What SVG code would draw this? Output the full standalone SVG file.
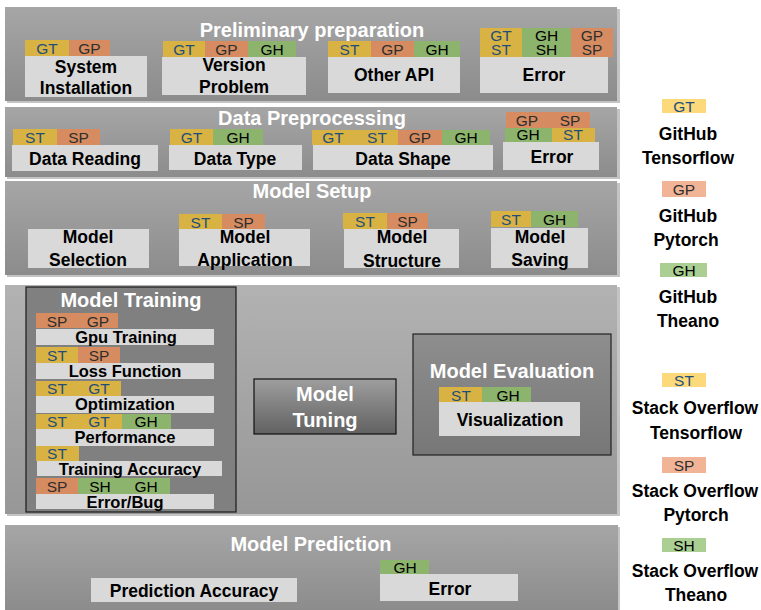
<svg xmlns="http://www.w3.org/2000/svg" width="761" height="610" viewBox="0 0 761 610">
<defs>
<linearGradient id="secg" x1="0" y1="0" x2="0" y2="1"><stop offset="0" stop-color="#a6a6a6"/><stop offset="1" stop-color="#8c8c8c"/></linearGradient>
<linearGradient id="traing" x1="0" y1="0" x2="0" y2="1"><stop offset="0" stop-color="#b2b2b2"/><stop offset="1" stop-color="#979797"/></linearGradient>
<linearGradient id="tung" x1="0" y1="0" x2="0" y2="1"><stop offset="0" stop-color="#9e9e9e"/><stop offset="1" stop-color="#616161"/></linearGradient>
<linearGradient id="evalg" x1="0" y1="0" x2="0" y2="1"><stop offset="0" stop-color="#8e8e8e"/><stop offset="1" stop-color="#777777"/></linearGradient>
<style>
text{font-family:"Liberation Sans",Arial,sans-serif}
.sec{fill:url(#secg)}
.shadow{fill:#c4c4c4}
.title{fill:#ffffff;font-weight:bold;font-size:20px;text-anchor:middle}
.box{fill:#d9d9d9}
.nt{fill:#000;font-weight:bold;font-size:17.5px;text-anchor:middle}
.nts{fill:#000;font-weight:bold;font-size:16.5px;text-anchor:middle}
.y{fill:#d9b244}
.o{fill:#d68c60}
.g{fill:#8db46c}
.ly{fill:#fcd97a}
.lo{fill:#f2b496}
.lg{fill:#abcf92}
.tb{fill:#1f4e79;font-size:15.5px;text-anchor:middle}
.td{fill:#2e2e2e;font-size:15.5px;text-anchor:middle}
.tk{fill:#000;font-size:15.5px;text-anchor:middle}
.lt{fill:#000;font-weight:bold;font-size:17.5px;text-anchor:middle}
</style>
</defs>
<rect width="761" height="610" fill="#ffffff"/>

<g id="sections">
<rect class="shadow" x="7" y="9" width="613" height="94"/>
<rect class="sec" x="5" y="7" width="612" height="94"/>
<rect class="shadow" x="7" y="109" width="613" height="70"/>
<rect class="sec" x="5" y="107" width="612" height="70"/>
<rect class="shadow" x="7" y="183" width="613" height="94"/>
<rect class="sec" x="5" y="181" width="612" height="94"/>
<rect class="shadow" x="7" y="287" width="613" height="229"/>
<rect x="5" y="285" width="612" height="229" fill="url(#traing)"/>
<rect class="shadow" x="7" y="527" width="613" height="85"/>
<rect class="sec" x="5" y="525" width="613" height="85"/>
<text class="title" x="312" y="37">Preliminary preparation</text>
<text class="title" x="312" y="125">Data Preprocessing</text>
<text class="title" x="312" y="198">Model Setup</text>
<text class="title" x="311" y="551">Model Prediction</text>
</g>

<g id="connectors"/>

<g id="system-installation">
<rect class="y" x="25" y="40" width="44" height="16"/><rect class="o" x="69" y="40" width="41" height="16"/>
<text class="tb" x="47" y="54">GT</text><text class="td" x="89.5" y="54">GP</text>
<rect class="box" x="25" y="56" width="122" height="41"/>
<text class="nt" x="86" y="73">System</text><text class="nt" x="86" y="94">Installation</text>
</g>
<g id="version-problem">
<rect class="y" x="163" y="41" width="42" height="16"/><rect class="o" x="205" y="41" width="43" height="16"/><rect class="g" x="248" y="41" width="48" height="16"/>
<text class="tb" x="184" y="55">GT</text><text class="td" x="226.5" y="55">GP</text><text class="tk" x="272" y="55">GH</text>
<rect class="box" x="162" y="57" width="144" height="38"/>
<text class="nt" x="234" y="71">Version</text><text class="nt" x="234" y="93">Problem</text>
</g>
<g id="other-api">
<rect class="y" x="328" y="41" width="43" height="16"/><rect class="o" x="371" y="41" width="43" height="16"/><rect class="g" x="414" y="41" width="46" height="16"/>
<text class="tb" x="349.5" y="55">ST</text><text class="td" x="392.5" y="55">GP</text><text class="tk" x="437" y="55">GH</text>
<rect class="box" x="328" y="57" width="132" height="36"/>
<text class="nt" x="394" y="81">Other API</text>
</g>
<g id="prelim-error">
<rect class="y" x="480" y="28" width="42" height="29"/><rect class="g" x="522" y="28" width="49" height="29"/><rect class="o" x="571" y="28" width="42" height="29"/>
<text class="tb" x="501" y="41">GT</text><text class="tk" x="546.5" y="41">GH</text><text class="td" x="592" y="41">GP</text>
<text class="tb" x="501" y="55">ST</text><text class="tk" x="546.5" y="55">SH</text><text class="td" x="592" y="55">SP</text>
<rect class="box" x="480" y="57" width="128" height="36"/>
<text class="nt" x="544" y="81">Error</text>
</g>

<g id="data-reading">
<rect class="y" x="13" y="129" width="44" height="16"/><rect class="o" x="57" y="129" width="43" height="16"/>
<text class="tb" x="35" y="143">ST</text><text class="td" x="78.5" y="143">SP</text>
<rect class="box" x="12" y="145" width="146" height="26"/>
<text class="nt" x="85" y="165">Data Reading</text>
</g>
<g id="data-type">
<rect class="y" x="170" y="129" width="43" height="16"/><rect class="g" x="213" y="129" width="50" height="16"/>
<text class="tb" x="191.5" y="143">GT</text><text class="tk" x="238" y="143">GH</text>
<rect class="box" x="169" y="145" width="133" height="25"/>
<text class="nt" x="235" y="165">Data Type</text>
</g>
<g id="data-shape">
<rect class="y" x="312" y="130" width="86" height="15"/><rect class="o" x="398" y="130" width="44" height="15"/><rect class="g" x="442" y="130" width="48" height="15"/>
<text class="tb" x="333" y="143">GT</text><text class="tb" x="377" y="143">ST</text><text class="td" x="420" y="143">GP</text><text class="tk" x="466" y="143">GH</text>
<rect class="box" x="313" y="145" width="180" height="25"/>
<text class="nt" x="403" y="165">Data Shape</text>
</g>
<g id="preproc-error">
<rect class="o" x="506" y="112" width="84" height="16"/>
<rect class="g" x="505" y="128" width="47" height="14"/><rect class="y" x="552" y="128" width="43" height="14"/>
<text class="td" x="527" y="126">GP</text><text class="td" x="570" y="126">SP</text>
<text class="tk" x="528" y="140">GH</text><text class="tb" x="573" y="140">ST</text>
<rect class="box" x="503" y="142" width="96" height="28"/>
<text class="nt" x="552" y="163">Error</text>
</g>

<g id="model-selection">
<rect class="box" x="28" y="229" width="121" height="39"/>
<text class="nt" x="88" y="243">Model</text><text class="nt" x="88" y="266">Selection</text>
</g>
<g id="model-application">
<rect class="y" x="179" y="214" width="43" height="15"/><rect class="o" x="222" y="214" width="43" height="15"/>
<text class="tb" x="200.5" y="228">ST</text><text class="td" x="243.5" y="228">SP</text>
<rect class="box" x="179" y="229" width="131" height="37"/>
<text class="nt" x="245" y="243">Model</text><text class="nt" x="245" y="266">Application</text>
</g>
<g id="model-structure">
<rect class="y" x="343" y="213" width="44" height="16"/><rect class="o" x="387" y="213" width="41" height="16"/>
<text class="tb" x="365" y="227">ST</text><text class="td" x="407.5" y="227">SP</text>
<rect class="box" x="344" y="229" width="115" height="39"/>
<text class="nt" x="402" y="243">Model</text><text class="nt" x="402" y="267">Structure</text>
</g>
<g id="model-saving">
<rect class="y" x="491" y="211" width="40" height="16"/><rect class="g" x="531" y="211" width="47" height="16"/>
<text class="tb" x="511" y="225">ST</text><text class="tk" x="554.5" y="225">GH</text>
<rect class="box" x="491" y="228" width="97" height="40"/>
<text class="nt" x="540" y="243">Model</text><text class="nt" x="540" y="266">Saving</text>
</g>

<g id="model-training">
<rect x="26" y="287" width="210" height="225" fill="#808080" stroke="#1a1a1a" stroke-width="1.2"/>
<text class="title" x="131" y="307">Model Training</text>
<rect class="o" x="36" y="313" width="82" height="15"/>
<text class="td" x="57" y="327">SP</text><text class="td" x="98" y="327">GP</text>
<rect class="box" x="36" y="329" width="178" height="16"/>
<text class="nts" x="126" y="343">Gpu Training</text>
<rect class="y" x="36" y="347" width="42" height="16"/><rect class="o" x="78" y="347" width="42" height="16"/>
<text class="tb" x="57" y="361">ST</text><text class="td" x="99" y="361">SP</text>
<rect class="box" x="36" y="363" width="178" height="16"/>
<text class="nts" x="125" y="377">Loss Function</text>
<rect class="y" x="36" y="381" width="85" height="15"/>
<text class="tb" x="57" y="394">ST</text><text class="tb" x="99" y="394">GT</text>
<rect class="box" x="36" y="396" width="178" height="17"/>
<text class="nts" x="125" y="410">Optimization</text>
<rect class="y" x="36" y="414" width="86" height="15"/><rect class="g" x="122" y="414" width="49" height="15"/>
<text class="tb" x="57" y="427">ST</text><text class="tb" x="99" y="427">GT</text><text class="tk" x="146" y="427">GH</text>
<rect class="box" x="36" y="429" width="178" height="17"/>
<text class="nts" x="125" y="443">Performance</text>
<rect class="y" x="36" y="446" width="43" height="15"/>
<text class="tb" x="57" y="459">ST</text>
<rect class="box" x="37" y="461" width="185" height="15"/>
<text class="nts" x="130" y="475">Training Accuracy</text>
<rect class="o" x="36" y="478" width="42" height="16"/><rect class="g" x="78" y="478" width="92" height="16"/>
<text class="td" x="57" y="492">SP</text><text class="tk" x="100" y="492">SH</text><text class="tk" x="146" y="492">GH</text>
<rect class="box" x="36" y="494" width="178" height="15"/>
<text class="nts" x="125" y="508">Error/Bug</text>
</g>

<g id="model-tuning">
<rect x="254" y="379" width="142" height="55" fill="url(#tung)" stroke="#111" stroke-width="1.2"/>
<text class="title" x="325" y="401">Model</text><text class="title" x="325" y="427">Tuning</text>
</g>

<g id="model-evaluation">
<rect x="413" y="334" width="198" height="121" fill="url(#evalg)" stroke="#222" stroke-width="1.2"/>
<text class="title" x="512" y="378">Model Evaluation</text>
<rect class="y" x="439" y="387" width="43" height="15"/><rect class="g" x="482" y="387" width="49" height="15"/>
<text class="tb" x="461" y="401">ST</text><text class="tk" x="508" y="401">GH</text>
<rect class="box" x="439" y="402" width="141" height="34"/>
<text class="nt" x="510" y="426">Visualization</text>
</g>

<g id="prediction-accuracy">
<rect class="box" x="91" y="578" width="206" height="24"/>
<text class="nt" x="194" y="597">Prediction Accuracy</text>
</g>
<g id="prediction-error">
<rect class="g" x="380" y="560" width="49" height="14"/>
<text class="tk" x="405" y="573">GH</text>
<rect class="box" x="380" y="574" width="138" height="27"/>
<text class="nt" x="450" y="595">Error</text>
</g>

<g id="legend-gt">
<rect class="ly" x="662" y="99" width="44" height="14"/><text class="tb" x="684" y="112">GT</text>
<text class="lt" x="688" y="140">GitHub</text><text class="lt" x="688" y="164">Tensorflow</text>
</g>
<g id="legend-gp">
<rect class="lo" x="662" y="181" width="44" height="16"/><text class="td" x="684" y="195">GP</text>
<text class="lt" x="688" y="222">GitHub</text><text class="lt" x="686" y="246">Pytorch</text>
</g>
<g id="legend-gh">
<rect class="lg" x="660" y="263" width="47" height="14"/><text class="tk" x="684" y="276">GH</text>
<text class="lt" x="688" y="303">GitHub</text><text class="lt" x="688" y="327">Theano</text>
</g>
<g id="legend-st">
<rect class="ly" x="662" y="373" width="44" height="14"/><text class="tb" x="684" y="386">ST</text>
<text class="lt" x="695" y="414">Stack Overflow</text><text class="lt" x="696" y="439">Tensorflow</text>
</g>
<g id="legend-sp">
<rect class="lo" x="662" y="457" width="44" height="16"/><text class="td" x="684" y="471">SP</text>
<text class="lt" x="695" y="497">Stack Overflow</text><text class="lt" x="696" y="521">Pytorch</text>
</g>
<g id="legend-sh">
<rect class="lg" x="662" y="538" width="44" height="14"/><text class="tk" x="684" y="551">SH</text>
<text class="lt" x="695" y="577">Stack Overflow</text><text class="lt" x="696" y="601">Theano</text>
</g>
</svg>
